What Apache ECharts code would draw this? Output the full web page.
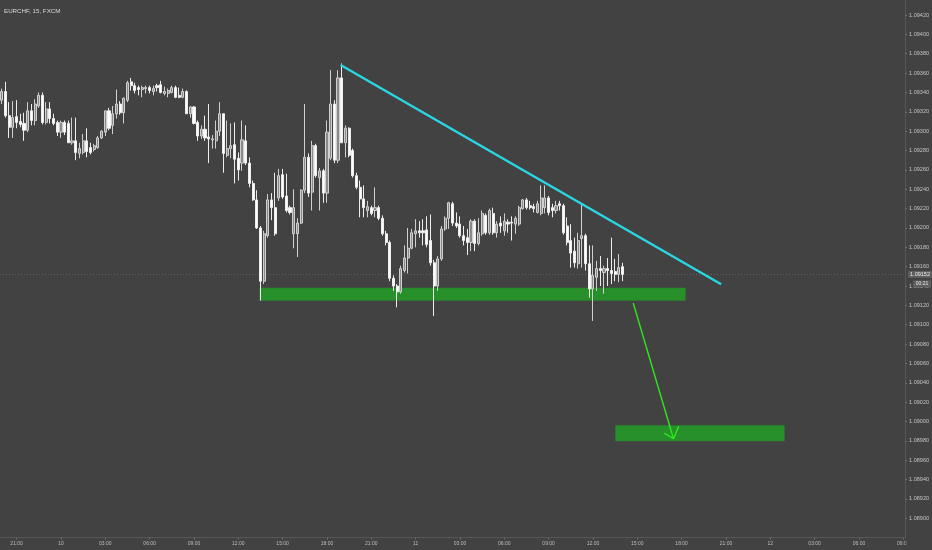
<!DOCTYPE html>
<html><head><meta charset="utf-8">
<script src="https://cdn.jsdelivr.net/npm/echarts@6/dist/echarts.min.js"></script>
<style>html,body{margin:0;padding:0;background:#424242;}#c{width:932px;height:550px;}</style>
</head><body><div id="c"></div>
<script>
const chartTitle = 'EURCHF, 15, FXCM';
const startDay = 9, startHour = 20, slotCount = 245, slotMinutes = 15;

const opens = [1.09332,1.09341,1.09316,1.09304,1.09315,1.09310,1.09308,1.09301,1.09321,1.09311,
1.09326,1.09337,1.09309,1.09323,1.09313,1.09309,1.09299,1.09309,1.09308,1.09288,
1.09290,1.09277,1.09278,1.09290,1.09283,1.09281,1.09283,1.09293,1.09299,1.09321,
1.09306,1.09318,1.09328,1.09319,1.09332,1.09351,1.09347,1.09345,1.09343,1.09344,
1.09345,1.09341,1.09347,1.09348,1.09339,1.09339,1.09340,1.09345,1.09337,1.09335,
1.09341,1.09318,1.09325,1.09309,1.09295,1.09302,1.09294,1.09291,1.09290,1.09300,
1.09318,1.09275,1.09282,1.09286,1.09272,1.09267,1.09290,1.09267,1.09246,1.09229,
1.09200,1.09145,1.09192,1.09229,1.09221,1.09231,1.09255,1.09233,1.09221,1.09194,
1.09194,1.09205,1.09239,1.09273,1.09237,1.09285,1.09252,1.09259,1.09236,1.09272,
1.09328,1.09270,1.09355,1.09288,1.09303,1.09280,1.09254,1.09242,1.09230,1.09218,
1.09221,1.09218,1.09221,1.09210,1.09194,1.09185,1.09148,1.09140,1.09134,1.09156,
1.09169,1.09179,1.09194,1.09197,1.09197,1.09198,1.09187,1.09164,1.09140,1.09168,
1.09199,1.09210,1.09225,1.09205,1.09204,1.09192,1.09190,1.09185,1.09207,1.09184,
1.09194,1.09213,1.09195,1.09215,1.09195,1.09205,1.09197,1.09206,1.09206,1.09204,
1.09204,1.09220,1.09229,1.09223,1.09222,1.09216,1.09215,1.09221,1.09231,1.09221,
1.09218,1.09225,1.09223,1.09202,1.09187,1.09176,1.09163,1.09189,1.09192,1.09163,
1.09137,1.09149,1.09158,1.09154,1.09158,1.09156,1.09155,1.09152,1.09160];

const closes = [1.09341,1.09316,1.09304,1.09314,1.09309,1.09307,1.09301,1.09321,1.09311,1.09328,
1.09337,1.09309,1.09323,1.09313,1.09308,1.09299,1.09309,1.09299,1.09288,1.09290,
1.09278,1.09282,1.09290,1.09279,1.09278,1.09285,1.09293,1.09300,1.09321,1.09303,
1.09318,1.09328,1.09319,1.09334,1.09350,1.09347,1.09342,1.09343,1.09345,1.09345,
1.09342,1.09344,1.09345,1.09340,1.09341,1.09342,1.09345,1.09335,1.09335,1.09341,
1.09318,1.09325,1.09308,1.09295,1.09302,1.09293,1.09292,1.09292,1.09300,1.09318,
1.09277,1.09282,1.09285,1.09271,1.09260,1.09291,1.09267,1.09246,1.09229,1.09200,
1.09145,1.09194,1.09229,1.09221,1.09194,1.09254,1.09232,1.09218,1.09216,1.09221,
1.09205,1.09239,1.09273,1.09236,1.09285,1.09254,1.09259,1.09236,1.09299,1.09328,
1.09270,1.09355,1.09288,1.09303,1.09275,1.09254,1.09242,1.09230,1.09221,1.09222,
1.09215,1.09221,1.09210,1.09194,1.09185,1.09148,1.09140,1.09134,1.09158,1.09169,
1.09179,1.09195,1.09197,1.09195,1.09195,1.09183,1.09164,1.09140,1.09168,1.09199,
1.09210,1.09226,1.09205,1.09202,1.09192,1.09187,1.09185,1.09207,1.09184,1.09195,
1.09215,1.09195,1.09218,1.09195,1.09204,1.09202,1.09207,1.09204,1.09205,1.09210,
1.09221,1.09229,1.09221,1.09221,1.09220,1.09225,1.09231,1.09231,1.09216,1.09218,
1.09223,1.09223,1.09195,1.09185,1.09174,1.09164,1.09187,1.09192,1.09163,1.09137,
1.09151,1.09158,1.09156,1.09158,1.09156,1.09153,1.09152,1.09159,1.09152];

const lows = [1.09328,1.09314,1.09293,1.09293,1.09303,1.09304,1.09290,1.09299,1.09306,1.09306,
1.09324,1.09307,1.09307,1.09308,1.09306,1.09295,1.09293,1.09296,1.09288,1.09286,
1.09270,1.09272,1.09276,1.09273,1.09276,1.09279,1.09282,1.09292,1.09295,1.09301,
1.09297,1.09313,1.09317,1.09308,1.09330,1.09342,1.09339,1.09337,1.09335,1.09339,
1.09339,1.09337,1.09341,1.09339,1.09337,1.09335,1.09339,1.09334,1.09334,1.09334,
1.09318,1.09314,1.09307,1.09290,1.09292,1.09290,1.09267,1.09282,1.09282,1.09295,
1.09257,1.09273,1.09272,1.09246,1.09249,1.09259,1.09265,1.09242,1.09228,1.09199,
1.09125,1.09142,1.09190,1.09208,1.09192,1.09228,1.09230,1.09216,1.09214,1.09179,
1.09170,1.09204,1.09236,1.09232,1.09218,1.09252,1.09218,1.09226,1.09226,1.09270,
1.09267,1.09267,1.09288,1.09273,1.09273,1.09252,1.09240,1.09211,1.09211,1.09211,
1.09213,1.09211,1.09208,1.09192,1.09182,1.09145,1.09135,1.09118,1.09132,1.09154,
1.09153,1.09178,1.09180,1.09190,1.09182,1.09180,1.09161,1.09109,1.09135,1.09166,
1.09197,1.09199,1.09202,1.09200,1.09190,1.09182,1.09172,1.09176,1.09176,1.09182,
1.09192,1.09193,1.09193,1.09193,1.09190,1.09195,1.09192,1.09195,1.09187,1.09194,
1.09202,1.09219,1.09219,1.09219,1.09216,1.09215,1.09213,1.09215,1.09213,1.09211,
1.09215,1.09218,1.09193,1.09182,1.09159,1.09159,1.09158,1.09159,1.09156,1.09128,
1.09104,1.09135,1.09140,1.09132,1.09140,1.09142,1.09145,1.09144,1.09145];

const highs = [1.09344,1.09351,1.09330,1.09331,1.09332,1.09318,1.09319,1.09330,1.09328,1.09333,
1.09340,1.09340,1.09330,1.09330,1.09318,1.09311,1.09311,1.09311,1.09311,1.09314,
1.09314,1.09288,1.09297,1.09303,1.09288,1.09287,1.09295,1.09301,1.09321,1.09324,
1.09326,1.09343,1.09331,1.09335,1.09352,1.09355,1.09350,1.09347,1.09347,1.09347,
1.09347,1.09347,1.09349,1.09352,1.09346,1.09344,1.09347,1.09347,1.09345,1.09344,
1.09342,1.09326,1.09326,1.09311,1.09306,1.09316,1.09328,1.09296,1.09311,1.09330,
1.09318,1.09311,1.09308,1.09309,1.09278,1.09311,1.09306,1.09273,1.09249,1.09239,
1.09202,1.09197,1.09235,1.09236,1.09257,1.09261,1.09261,1.09256,1.09223,1.09240,
1.09210,1.09240,1.09328,1.09277,1.09290,1.09287,1.09262,1.09261,1.09311,1.09363,
1.09332,1.09363,1.09370,1.09306,1.09304,1.09282,1.09257,1.09249,1.09244,1.09228,
1.09223,1.09242,1.09223,1.09213,1.09197,1.09187,1.09151,1.09142,1.09161,1.09182,
1.09200,1.09199,1.09209,1.09207,1.09209,1.09212,1.09214,1.09167,1.09171,1.09202,
1.09212,1.09227,1.09227,1.09216,1.09212,1.09202,1.09199,1.09209,1.09209,1.09210,
1.09218,1.09215,1.09220,1.09221,1.09207,1.09212,1.09215,1.09209,1.09212,1.09212,
1.09223,1.09230,1.09231,1.09228,1.09225,1.09228,1.09244,1.09244,1.09233,1.09225,
1.09228,1.09228,1.09225,1.09211,1.09204,1.09190,1.09195,1.09225,1.09194,1.09182,
1.09182,1.09166,1.09171,1.09161,1.09169,1.09190,1.09168,1.09173,1.09164];

// Annotations (x in 15-min slot units from the first slot, y in price)
const trendLine = [[91.7, 1.093683], [194.7, 1.091418]];
const zones = [[69.8, 185.0, 1.09125, 1.09138], [166.1, 211.8, 1.08980, 1.08996]];
const arrowShaft = [[170.9, 1.091225], [181.8, 1.089823]];
const arrowHead = [[179.3, 1.089881], [181.8, 1.089823], [183.2, 1.089950]];
const lastPrice = 1.09152;
const lastPriceLabel = '1.09152';
const countdown = '00:21';

const yMin = 1.0888, yMax = 1.094355, yStep = 0.0002;

// time slot categories
const categories = [];
for (let i = 0; i < slotCount; i++) {
  const total = startHour * 60 + i * slotMinutes;
  const d = startDay + Math.floor(total / 1440);
  const rem = total % 1440;
  const hh = Math.floor(rem / 60), mm = rem % 60;
  categories.push(d + ' ' + String(hh).padStart(2, '0') + ':' + String(mm).padStart(2, '0'));
}
function isTick(idx, val) {
  const t = val.split(' ')[1];
  const hh = parseInt(t.slice(0, 2), 10), mm = parseInt(t.slice(3), 10);
  return mm === 0 && hh % 3 === 0;
}
function fmtTime(val) {
  const parts = val.split(' ');
  if (parts[1] === '00:00') return parts[0];
  return parts[1];
}

const candleData = opens.map((o, i) => [o, closes[i], lows[i], highs[i]]);
const priceLine = [[-0.5, lastPrice], [slotCount - 0.5, lastPrice]];

const chart = echarts.init(document.getElementById('c'), null, {renderer: 'canvas'});
const BG = '#424242';
const option = {
  backgroundColor: BG,
  animation: false,
  title: {
    text: chartTitle, left: 4, top: 8, padding: 0,
    textStyle: {color: '#d8d8d8', fontSize: 6.2, fontWeight: 'normal', fontFamily: 'Liberation Sans'}
  },
  grid: {left: 0, right: 26, top: 0, bottom: 12.3, containLabel: false},
  xAxis: [{
    type: 'category', data: categories, boundaryGap: true, gridIndex: 0,
    axisLine: {show: true, onZero: false, lineStyle: {color: '#565656', width: 1}},
    axisTick: {show: true, interval: isTick, alignWithLabel: true, length: 2, lineStyle: {color: '#6a6a6a'}},
    axisLabel: {interval: isTick, formatter: fmtTime, color: '#bdbdbd', fontSize: 5, margin: 3, fontFamily: 'Liberation Sans'},
    splitLine: {show: false}
  }, {
    type: 'value', gridIndex: 0, min: -0.5, max: slotCount - 0.5, show: false
  }],
  yAxis: [{
    type: 'value', position: 'right', min: yMin, max: yMax, interval: yStep,
    axisLine: {show: true, onZero: false, lineStyle: {color: '#565656', width: 1}},
    axisTick: {show: true, length: 2, lineStyle: {color: '#6a6a6a'}},
    axisLabel: {
      show: true, showMinLabel: false, showMaxLabel: false, inside: false, margin: 4,
      color: '#c4c4c4', fontSize: 5.5, fontFamily: 'Liberation Sans',
      formatter: v => v.toFixed(5)
    },
    splitLine: {show: false}
  }],
  series: [
    {
      type: 'line', name: 'lastPrice', xAxisIndex: 1, yAxisIndex: 0, z: 0,
      data: priceLine, symbol: 'none', silent: true,
      lineStyle: {color: '#626262', width: 1, type: [1, 2]}
    },
    {
      type: 'custom', name: 'zones', xAxisIndex: 1, yAxisIndex: 0, z: 1,
      data: zones, encode: {x: [0, 1], y: [2, 3]},
      renderItem: function (params, api) {
        const p0 = api.coord([api.value(0), api.value(3)]);
        const p1 = api.coord([api.value(1), api.value(2)]);
        return {
          type: 'rect',
          shape: {x: p0[0], y: p0[1], width: p1[0] - p0[0], height: p1[1] - p0[1]},
          style: {fill: '#27902a', stroke: '#2f7d30', lineWidth: 0.6}
        };
      }
    },
    {
      type: 'candlestick', name: 'EURCHF', xAxisIndex: 0, yAxisIndex: 0, z: 3,
      data: candleData, barWidth: 2.6,
      itemStyle: {color: '#8a8a8a', color0: '#ffffff', borderColor: '#d0d0d0', borderColor0: '#ededed', borderWidth: 1}
    },
    {
      type: 'line', name: 'trend', xAxisIndex: 1, yAxisIndex: 0, z: 5,
      data: trendLine, symbol: 'none', silent: true,
      lineStyle: {color: '#2bd6e3', width: 2.4}
    },
    {
      type: 'line', name: 'arrow', xAxisIndex: 1, yAxisIndex: 0, z: 5,
      data: arrowShaft, symbol: 'none', silent: true,
      lineStyle: {color: '#2ee61e', width: 1.4}
    },
    {
      type: 'line', name: 'arrowHead', xAxisIndex: 1, yAxisIndex: 0, z: 5,
      data: arrowHead, symbol: 'none', silent: true,
      lineStyle: {color: '#2ee61e', width: 1.4}
    }
  ]
};
chart.setOption(option);

const py = chart.convertToPixel({yAxisIndex: 0}, lastPrice);
chart.setOption({
  graphic: [
    {type: 'rect', z: 100, shape: {x: 906.5, y: 538.5, width: 26, height: 12}, style: {fill: BG}},
    {type: 'rect', z: 101, shape: {x: 908, y: py - 3.5, width: 24, height: 7}, style: {fill: '#5e5e5e'}},
    {type: 'text', z: 102, x: 920, y: py,
     style: {text: lastPriceLabel, fill: '#f0f0f0', fontSize: 5.5, align: 'center', verticalAlign: 'middle', fontFamily: 'Liberation Sans'}},
    {type: 'rect', z: 101, shape: {x: 913, y: py + 6, width: 18, height: 7}, style: {fill: '#5e5e5e'}},
    {type: 'text', z: 102, x: 922, y: py + 9.5,
     style: {text: countdown, fill: '#e6e6e6', fontSize: 5, align: 'center', verticalAlign: 'middle', fontFamily: 'Liberation Sans'}}
  ]
});
</script>
</body></html>
